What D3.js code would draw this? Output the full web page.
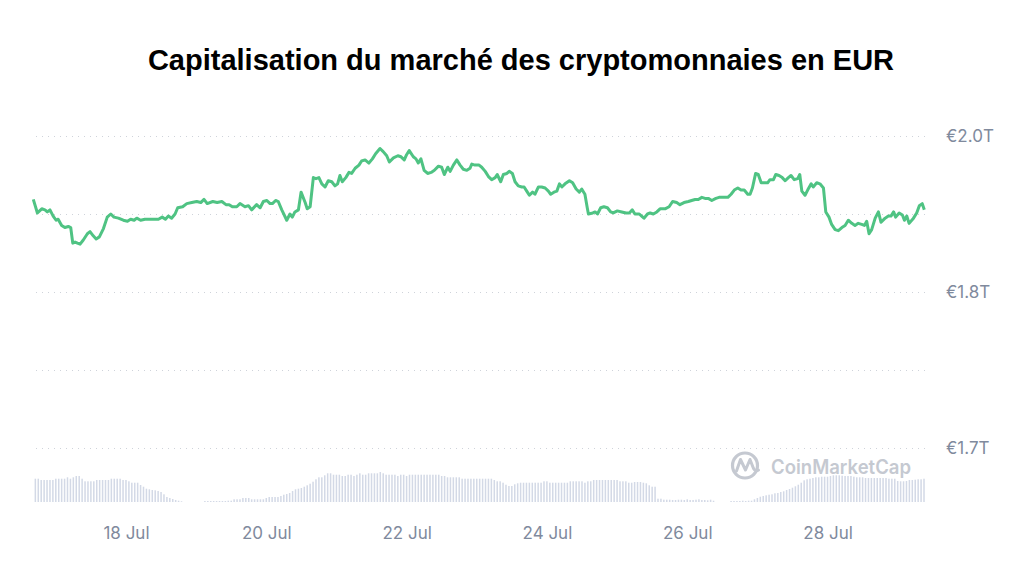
<!DOCTYPE html>
<html>
<head>
<meta charset="utf-8">
<script src="https://cdn.jsdelivr.net/npm/d3@7"></script>
<style>
  body { margin: 0; background: #fff; }
  svg { display: block; }
</style>
</head>
<body>
<div id="chart"></div>
<script>
// Hours since 16 Jul 00:00 and market cap in trillions of EUR
var capHours = [16.3,17.7,19.2,20.3,21.1,22.0,23.1,24.1,24.8,26.0,27.1,28.3,29.1,29.8,30.6,31.4,32.3,33.4,34.8,35.7,
  36.8,37.8,38.9,40.3,41.6,42.8,43.9,45.4,47.1,48.5,49.6,50.8,51.7,53.0,54.5,56.2,57.6,59.1,60.4,61.5,
  62.5,63.6,64.8,65.7,67.4,68.8,70.5,72.2,73.6,74.7,75.8,77.7,79.2,80.8,82.2,83.3,84.4,85.9,87.0,88.7,
  89.9,91.0,92.7,93.9,95.0,96.2,97.3,98.1,99.2,100.1,101.3,103.0,104.1,104.9,105.8,107.0,107.9,109.3,110.0,111.0,
  112.1,113.0,114.0,115.0,116.1,117.2,118.4,119.5,120.4,121.2,122.0,123.2,124.3,125.2,126.4,127.7,128.6,129.8,131.1,132.3,
  133.4,134.9,136.0,137.2,138.1,139.5,141.0,142.1,143.2,144.0,144.9,146.3,147.2,148.0,148.9,150.0,151.2,152.4,153.5,154.9,
  156.0,156.9,158.1,158.9,160.0,161.2,162.3,163.4,164.6,165.7,166.3,167.4,168.8,169.7,170.9,172.0,173.1,174.3,175.0,176.2,
  177.1,178.3,179.1,180.2,181.1,182.2,183.4,184.2,185.1,186.0,187.1,187.9,189.1,190.2,191.4,192.5,193.3,194.4,195.4,196.3,
  197.1,198.2,199.7,200.8,202.0,203.1,203.9,205.0,205.8,206.2,207.7,208.5,209.3,210.4,211.5,212.7,213.8,214.7,216.1,217.6,
  219.1,220.2,221.2,222.1,223.6,224.4,225.2,226.4,227.3,228.4,229.6,230.7,232.4,233.8,235.0,236.4,237.5,238.9,240.4,241.5,
  242.7,243.8,245.0,246.1,247.2,248.4,249.8,250.9,252.4,253.9,255.0,256.1,257.3,258.4,259.5,260.7,261.5,262.3,263.4,264.3,
  265.3,266.4,267.5,268.3,269.5,270.3,271.4,272.5,273.5,274.6,275.5,276.6,277.8,278.5,279.2,280.3,281.2,282.4,283.1,284.3,
  285.4,286.6,287.4,288.5,289.4,290.6,291.7,292.9,294.0,295.1,296.3,297.4,298.5,299.7,300.6,301.4,302.2,303.1,304.3,305.4,
  306.3,307.7,308.8,309.7,310.6,311.3,312.5,313.6,314.3,315.1,315.9,317.4,318.5,319.4,320.4,321.1];

var capValues = [1.889,1.876,1.880,1.879,1.877,1.879,1.873,1.869,1.870,1.864,1.862,1.863,1.862,1.847,1.848,1.847,1.846,1.850,1.856,1.858,
  1.854,1.851,1.853,1.861,1.872,1.875,1.872,1.871,1.869,1.868,1.870,1.869,1.871,1.869,1.870,1.870,1.870,1.870,1.872,1.870,
  1.873,1.871,1.875,1.881,1.882,1.885,1.886,1.887,1.886,1.889,1.885,1.887,1.886,1.887,1.884,1.884,1.882,1.882,1.885,1.882,
  1.883,1.879,1.884,1.881,1.887,1.888,1.885,1.885,1.888,1.887,1.879,1.869,1.875,1.872,1.877,1.879,1.896,1.886,1.880,1.882,
  1.910,1.909,1.910,1.904,1.901,1.907,1.906,1.902,1.904,1.912,1.906,1.910,1.915,1.914,1.919,1.922,1.926,1.927,1.924,1.928,
  1.933,1.938,1.935,1.931,1.925,1.929,1.931,1.930,1.927,1.932,1.936,1.930,1.928,1.924,1.928,1.917,1.914,1.915,1.917,1.921,
  1.920,1.913,1.920,1.916,1.922,1.927,1.922,1.918,1.917,1.919,1.923,1.922,1.922,1.920,1.916,1.911,1.908,1.910,1.913,1.906,
  1.913,1.914,1.916,1.914,1.906,1.902,1.901,1.901,1.897,1.893,1.896,1.894,1.901,1.901,1.900,1.897,1.894,1.896,1.897,1.904,
  1.901,1.904,1.907,1.905,1.899,1.896,1.899,1.894,1.881,1.875,1.876,1.877,1.875,1.881,1.882,1.881,1.877,1.876,1.878,1.877,
  1.876,1.876,1.879,1.875,1.875,1.873,1.871,1.875,1.876,1.875,1.877,1.880,1.880,1.882,1.887,1.886,1.884,1.886,1.887,1.888,
  1.889,1.889,1.891,1.890,1.890,1.888,1.890,1.891,1.891,1.891,1.894,1.898,1.900,1.898,1.898,1.894,1.894,1.900,1.914,1.913,
  1.905,1.905,1.905,1.908,1.908,1.913,1.912,1.910,1.907,1.910,1.912,1.908,1.909,1.913,1.897,1.893,1.898,1.904,1.901,1.905,
  1.904,1.900,1.877,1.872,1.865,1.860,1.859,1.862,1.864,1.869,1.866,1.864,1.866,1.865,1.864,1.868,1.856,1.860,1.871,1.877,
  1.867,1.871,1.873,1.873,1.877,1.872,1.876,1.874,1.869,1.873,1.866,1.871,1.876,1.883,1.885,1.879];

// Hourly volume (relative units), first bar at hour 17, null = no bar
var volStartHour = 17;
var volume = [23.3,23.3,22,22,22,22,22,23.3,23.3,23.3, 23.3,24.7,23.3,24.7,26,26,23.3,20.7,20.7,20.7,
  20.7,22,22,22,22,22,23.3,23.3,23.3,23.3, 22,22,20.7,19.3,19.3,19.3,17,15.3,13.3,12.7,
  12,11.7,11,10,7.7,5,4,3,2,1.3, 0.7,
  null,null,null,null,null,null,null,
  1,1,1,1,1,1,1,1,1.3,1.3, 2.7,2.7,2.7,4,4,4,2.7,2.7,2.7,2.7,
  2.7,4,5,5,5,5,6,7.3,8,9, 11,12.7,13.3,14,15.3,16.7,18.3,20.3,22.7,24.7, 24.7,26.7,28.7,28.7,
  27.3,27.3,27.3,26,26,27.3,27.3,26,27.3,28.7, 27.3,27.3,28.7,28.7,28.7,28.7,30,28.7,27.3,27.3,
  27.3,27.3,26,27.3,27.3,26,27.3,27.3,27.3,27.3, 27.3,27.3,27.3,27.3,27.3,27.3,27.3,26,26,24.7,
  24.7,24.7,24.7,24.7,23.3,23.3,23.3,23.3,23.3,23.3, 23.3,23.3,23.3,23.3,23.3,22,20.7,20.7,19.3,17.3,
  16,16,17.7,18.7,19.3,19.3,19.3,19.3,19.3,19.3, 19.3,19.3,20.7,20.7,19.3,19.3,19.3,19.3,19.3,19.3,
  19.3,20.7,20.7,20.7,20.7,20.7,19.3,20.7,20.7,22, 22,22,22,22,22,22,22,22,20.7,20.7, 20.7,19.3,19.3,
  20,20,20,19.3,18.7,16.7,15.3,15.3, 3.3,3.3,2.3, 2.3,2.3,2,2,2.3,2.3,2,2.7,2,2,2.3,2.7,2, 2,1.7,2.3,1.3,
  null,null,null,null,null,
  1,1,1,1,1.3,1,1.3,1.3,
  2.7,4,5.3,6,6.7,7.3,7.7,8.7,9,10, 10.7,12,13,14.3,15.7,17.3,19.3,21.7,22.7,23.3,
  24,24.7,24.7,25.3,25.3,25.3,26,26.7,26.7,26.7, 26.3,26,26,26,25.3,24.7,24.7,24.7,24,24,
  24,24,24,24,24,24,23.3,23.3,23.3,21, 20.7,20.7,21,22,22,22.3,22.7,22.7,23.3];

var gridValues = [1.95, 1.875, 1.8, 1.725, 1.65];
var gridLabels = ["€2.0T", "", "€1.8T", "", "€1.7T"];
var tickDays = [18, 20, 22, 24, 26, 28];

var svgWidth = 1024;
var svgHeight = 568;
var plot = { left: 33.3, right: 924.3, top: 136, bottom: 448, volBase: 502 };

var base = new Date(2024, 6, 16);
function hourToDate(h) { return new Date(base.getTime() + h * 3600 * 1000); }

var capData = capHours.map(function(h, i) { return { date: hourToDate(h), value: capValues[i] }; });
var volData = [];
volume.forEach(function(v, i) {
  if (v !== null) volData.push({ date: hourToDate(volStartHour + i), value: v });
});

var svg = d3.select("#chart").append("svg")
  .attr("width", svgWidth)
  .attr("height", svgHeight);

// Scales
var xScale = d3.scaleTime()
  .domain([hourToDate(capHours[0]), hourToDate(capHours[capHours.length - 1])])
  .range([plot.left, plot.right]);

var yScale = d3.scaleLinear()
  .domain([1.65, 1.95])
  .range([plot.bottom, plot.top]);

var volScale = d3.scaleLinear()
  .domain([0, 30])
  .range([0, 30]);

// Title
svg.append("text")
  .attr("x", 521)
  .attr("y", 70)
  .attr("text-anchor", "middle")
  .style("font-family", "'Liberation Sans', Arial, sans-serif")
  .style("font-weight", "bold")
  .style("font-size", "29px")
  .style("fill", "#000")
  .text("Capitalisation du marché des cryptomonnaies en EUR");

// Grid + right labels
var rightAxis = d3.axisRight(yScale)
  .tickValues(gridValues)
  .tickSize(-(plot.right - plot.left))
  .tickPadding(21)
  .tickFormat(function(d, i) { return gridLabels[i]; });

var yAxisG = svg.append("g")
  .attr("transform", "translate(" + (plot.right + 0.7) + ",0)")
  .call(rightAxis);
yAxisG.select(".domain").remove();
yAxisG.selectAll(".tick line")
  .attr("stroke", "#cfd3da")
  .attr("stroke-width", 1)
  .attr("stroke-dasharray", "1,5");
yAxisG.selectAll(".tick text")
  .style("font-family", "Inter, 'Noto Sans', sans-serif")
  .style("font-size", "17px")
  .style("fill", "#808a9d");

// Volume bars
svg.append("g").selectAll("rect")
  .data(volData)
  .enter()
  .append("rect")
  .attr("x", function(d) { return xScale(d.date) - 0.75; })
  .attr("width", 1.5)
  .attr("y", function(d) { return plot.volBase - volScale(d.value); })
  .attr("height", function(d) { return volScale(d.value); })
  .attr("fill", "#d3d9e6");

// Bottom axis
var bottomAxis = d3.axisBottom(xScale)
  .tickValues(tickDays.map(function(d) { return new Date(2024, 6, d); }))
  .tickSize(0)
  .tickPadding(25)
  .tickFormat(d3.timeFormat("%-d %b"));

var xAxisG = svg.append("g")
  .attr("transform", "translate(0," + plot.volBase + ")")
  .call(bottomAxis);
xAxisG.select(".domain").remove();
xAxisG.selectAll(".tick text")
  .style("font-family", "Inter, 'Noto Sans', sans-serif")
  .style("font-size", "17px")
  .style("fill", "#808a9d");

// Watermark
var wm = svg.append("g").attr("fill", "none").attr("stroke", "#c5c9d1");
wm.append("circle")
  .attr("cx", 745)
  .attr("cy", 465.5)
  .attr("r", 12.5)
  .attr("stroke-width", 3.2);
wm.append("path")
  .attr("d", "M736.5,471 L740.5,459.5 L745.5,470 L750,459.5 L753.5,468.5 Q755.5,472 758.5,470")
  .attr("stroke-width", 3)
  .attr("stroke-linejoin", "round")
  .attr("stroke-linecap", "round");
svg.append("text")
  .attr("x", 771)
  .attr("y", 474)
  .attr("textLength", 140)
  .attr("lengthAdjust", "spacingAndGlyphs")
  .style("font-family", "Inter, 'Noto Sans', sans-serif")
  .style("font-weight", 600)
  .style("font-size", "20px")
  .style("fill", "#c5c9d1")
  .text("CoinMarketCap");

// Market cap line
var line = d3.line()
  .x(function(d) { return xScale(d.date); })
  .y(function(d) { return yScale(d.value); });

svg.append("path")
  .datum(capData)
  .attr("fill", "none")
  .attr("stroke", "#4fc383")
  .attr("stroke-width", 3)
  .attr("stroke-linejoin", "round")
  .attr("d", line);
</script>
</body>
</html>
